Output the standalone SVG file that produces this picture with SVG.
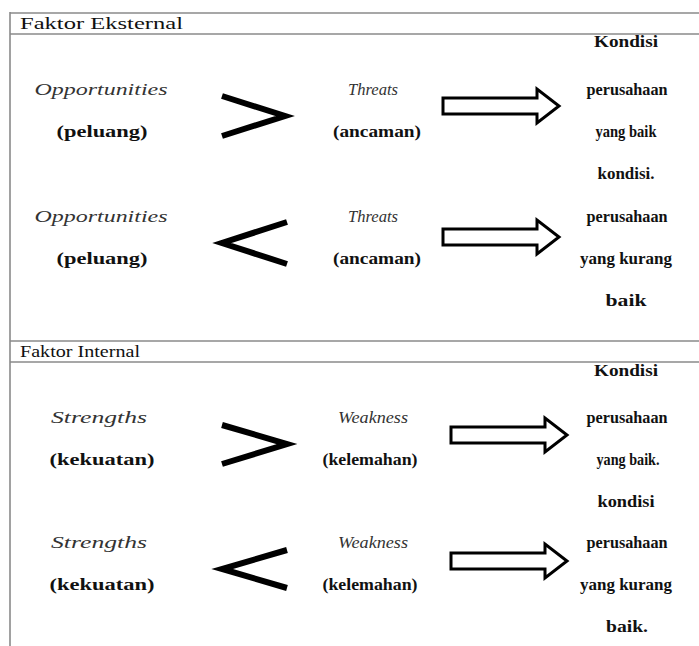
<svg xmlns="http://www.w3.org/2000/svg" width="699" height="646" viewBox="0 0 699 646">
<style>
.grid{stroke:#8a8a8a;stroke-width:1.6;fill:none}
.hd{font-family:'Liberation Serif','Times New Roman','DejaVu Serif',serif;font-size:17px;fill:#111}
.it{font-family:'Liberation Serif','Times New Roman','DejaVu Serif',serif;font-size:16px;font-style:italic;fill:#333}
.bd{font-family:'Liberation Serif','Times New Roman','DejaVu Serif',serif;font-size:17px;font-weight:bold;fill:#111;text-anchor:middle}
.cmp{fill:none;stroke:#000;stroke-width:6;stroke-linejoin:miter}
.arr{fill:#fff;stroke:#000;stroke-width:3;stroke-linejoin:miter}
</style>
<defs>
<path id="blk" d="M0,-8 H94 V-17 L116,0 L94,17 V8 H0 Z"/>
</defs>
<rect width="699" height="646" fill="#fff"/>
<g id="table">
<line class="grid" x1="10" y1="13" x2="699" y2="13"/>
<line class="grid" x1="10" y1="34" x2="699" y2="34"/>
<line class="grid" x1="10" y1="341" x2="699" y2="341"/>
<line class="grid" x1="10" y1="362" x2="699" y2="362"/>
<line class="grid" x1="10" y1="12" x2="10" y2="646"/>
<text class="hd" x="20" y="29" textLength="163" lengthAdjust="spacingAndGlyphs">Faktor Eksternal</text>
<text class="hd" x="20" y="357" textLength="120" lengthAdjust="spacingAndGlyphs">Faktor Internal</text>
</g>
<g id="opp1">
<text class="it" x="101" y="95" text-anchor="middle" textLength="133" lengthAdjust="spacingAndGlyphs">Opportunities</text>
<text class="bd" x="102" y="137" textLength="91" lengthAdjust="spacingAndGlyphs">(peluang)</text>
</g>
<g id="gt1"><polyline class="cmp" points="222,96 285,116 222,136"/></g>
<g id="thr1">
<text class="it" x="373" y="95" text-anchor="middle" textLength="50" lengthAdjust="spacingAndGlyphs">Threats</text>
<text class="bd" x="377" y="137" textLength="88" lengthAdjust="spacingAndGlyphs">(ancaman)</text>
</g>
<g id="res1">
<text class="bd" x="626" y="47" textLength="64" lengthAdjust="spacingAndGlyphs">Kondisi</text>
<text class="bd" x="627" y="95" textLength="81" lengthAdjust="spacingAndGlyphs">perusahaan</text>
<text class="bd" x="626" y="137" textLength="61" lengthAdjust="spacingAndGlyphs">yang baik</text>
</g>
<g id="opp2">
<text class="it" x="101" y="222" text-anchor="middle" textLength="133" lengthAdjust="spacingAndGlyphs">Opportunities</text>
<text class="bd" x="102" y="264" textLength="91" lengthAdjust="spacingAndGlyphs">(peluang)</text>
</g>
<g id="lt1"><polyline class="cmp" points="287,222 222,243 287,264"/></g>
<g id="thr2">
<text class="it" x="373" y="222" text-anchor="middle" textLength="50" lengthAdjust="spacingAndGlyphs">Threats</text>
<text class="bd" x="377" y="264" textLength="88" lengthAdjust="spacingAndGlyphs">(ancaman)</text>
</g>
<g id="res2">
<text class="bd" x="626" y="179" textLength="57" lengthAdjust="spacingAndGlyphs">kondisi.</text>
<text class="bd" x="627" y="222" textLength="81" lengthAdjust="spacingAndGlyphs">perusahaan</text>
<text class="bd" x="626" y="264" textLength="92" lengthAdjust="spacingAndGlyphs">yang kurang</text>
<text class="bd" x="626" y="306" textLength="41" lengthAdjust="spacingAndGlyphs">baik</text>
</g>
<g id="str1">
<text class="it" x="99" y="423" text-anchor="middle" textLength="96" lengthAdjust="spacingAndGlyphs">Strengths</text>
<text class="bd" x="102" y="465" textLength="105" lengthAdjust="spacingAndGlyphs">(kekuatan)</text>
</g>
<g id="gt2"><polyline class="cmp" points="222,425 287,444 222,464"/></g>
<g id="weak1">
<text class="it" x="373" y="423" text-anchor="middle" textLength="70" lengthAdjust="spacingAndGlyphs">Weakness</text>
<text class="bd" x="370" y="465" textLength="95" lengthAdjust="spacingAndGlyphs">(kelemahan)</text>
</g>
<g id="res3">
<text class="bd" x="626" y="376" textLength="64" lengthAdjust="spacingAndGlyphs">Kondisi</text>
<text class="bd" x="627" y="423" textLength="81" lengthAdjust="spacingAndGlyphs">perusahaan</text>
<text class="bd" x="628" y="465" textLength="63" lengthAdjust="spacingAndGlyphs">yang baik.</text>
</g>
<g id="str2">
<text class="it" x="99" y="548" text-anchor="middle" textLength="96" lengthAdjust="spacingAndGlyphs">Strengths</text>
<text class="bd" x="102" y="590" textLength="105" lengthAdjust="spacingAndGlyphs">(kekuatan)</text>
</g>
<g id="lt2"><polyline class="cmp" points="287,550 222,569 287,588"/></g>
<g id="weak2">
<text class="it" x="373" y="548" text-anchor="middle" textLength="70" lengthAdjust="spacingAndGlyphs">Weakness</text>
<text class="bd" x="370" y="590" textLength="95" lengthAdjust="spacingAndGlyphs">(kelemahan)</text>
</g>
<g id="res4">
<text class="bd" x="626" y="507" textLength="57" lengthAdjust="spacingAndGlyphs">kondisi</text>
<text class="bd" x="627" y="548" textLength="81" lengthAdjust="spacingAndGlyphs">perusahaan</text>
<text class="bd" x="626" y="590" textLength="92" lengthAdjust="spacingAndGlyphs">yang kurang</text>
<text class="bd" x="627" y="632" textLength="42" lengthAdjust="spacingAndGlyphs">baik.</text>
</g>
<g id="connectors">
<use href="#blk" class="arr" transform="translate(443,106)"/>
<use href="#blk" class="arr" transform="translate(443,237)"/>
<use href="#blk" class="arr" transform="translate(451,435)"/>
<use href="#blk" class="arr" transform="translate(451,561)"/>
</g>
</svg>
